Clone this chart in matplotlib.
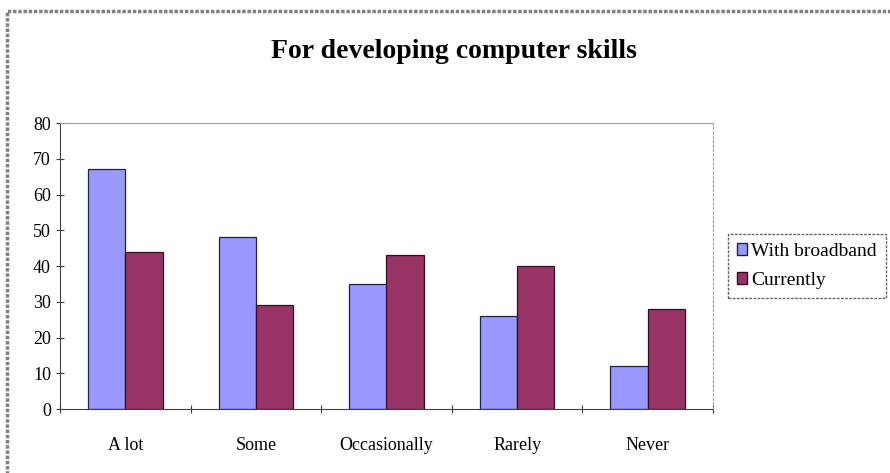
import numpy as np
import matplotlib.pyplot as plt
from matplotlib.patches import Rectangle

# dữ liệu
categories = ['A lot', 'Some', 'Occasionally', 'Rarely', 'Never']
broadband = [67, 48, 35, 26, 12]
currently = [44, 29, 43, 40, 28]
yticks = [0, 10, 20, 30, 40, 50, 60, 70, 80]

plt.rcParams['font.family'] = ['Liberation Serif', 'DejaVu Serif']

fig = plt.figure(figsize=(8.9, 4.73), dpi=100)
ax = fig.add_axes([60 / 890, 1 - 409 / 473, 653 / 890, (409 - 123) / 473])

x = np.arange(len(categories))
w = 0.286
ax.bar(x - w / 2, broadband, w, color='#9999FF', edgecolor='#202040', linewidth=0.9,
       label='With broadband')
ax.bar(x + w / 2, currently, w, color='#993366', edgecolor='#301020', linewidth=0.9,
       label='Currently')

ax.set_xlim(-0.5, len(categories) - 0.5)
ax.set_ylim(0, 80)
ax.set_yticks(yticks)
ax.set_xticks(np.arange(len(categories) + 1) - 0.5, minor=False)
ax.set_xticklabels([])
ax.set_xticks(x, minor=True)
ax.set_xticklabels(categories, minor=True)
ax.tick_params(axis='x', which='minor', length=0, pad=20, labelsize=13)
ax.tick_params(axis='x', which='major', direction='inout', length=6, color='#404040')
ax.tick_params(axis='y', direction='inout', length=6, color='#404040', labelsize=13)

ax.spines['left'].set_color('#404040')
ax.spines['bottom'].set_color('#404040')
ax.spines['bottom'].set_linestyle((0, (2, 1)))
ax.spines['top'].set_color('#a0a0a0')
ax.spines['right'].set_color('#a0a0a0')
ax.spines['right'].set_linestyle((0, (2, 2)))

fig.text(454 / 890, 1 - 51 / 473, 'For developing computer skills', ha='center',
         va='center', fontsize=20, fontweight='bold')

leg = fig.legend(loc='center left', bbox_to_anchor=(728 / 890, 1 - 266 / 473),
                 fontsize=14, frameon=True, fancybox=False, handlelength=0.55,
                 handleheight=0.55, handletextpad=0.2, borderaxespad=0,
                 borderpad=0.45, labelspacing=0.6)
leg.get_frame().set_edgecolor('#404040')
leg.get_frame().set_linestyle((0, (2, 1)))
for h in leg.legend_handles:
    h.set_linewidth(1.0)

# khung ngoài
fig.patches.append(Rectangle((7 / 890, -0.1), 1, 1.1 - 11 / 473, transform=fig.transFigure,
                             fill=False, edgecolor='#808080', linewidth=2.5,
                             linestyle=(0, (1, 0.5))))

fig.savefig('out.png', dpi=100)
